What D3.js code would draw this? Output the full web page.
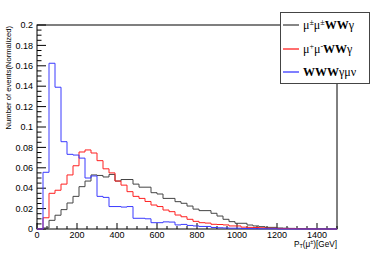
<!DOCTYPE html>
<html>
<head>
<meta charset="utf-8">
<script src="https://cdn.jsdelivr.net/npm/d3@7"></script>
<style>
  html, body { margin: 0; padding: 0; background: #fff; }
  svg { display: block; }
</style>
</head>
<body>
<div id="chart"></div>
<script>
// pT(mu) distributions, 30 GeV bins from 0 to 1500 GeV
const binWidth = 30;
const xDomain = [0, 1500];
const yDomain = [0, 0.2];
const xTicks = [0, 200, 400, 600, 800, 1000, 1200, 1400];
const yTicks = [0, 0.02, 0.04, 0.06, 0.08, 0.1, 0.12, 0.14, 0.16, 0.18, 0.2];

const sameSign = [
    0, 0.001, 0.0085, 0.0135, 0.019, 0.0255, 0.032, 0.0415, 0.047, 0.053,
    0.0525, 0.051, 0.0535, 0.047, 0.0485, 0.0485, 0.0440, 0.041, 0.041, 0.0356,
    0.0343, 0.030, 0.030, 0.0268, 0.0252, 0.0225, 0.0195, 0.018, 0.018, 0.0154,
    0.0127, 0.0095, 0.0072, 0.0056, 0.0056, 0.0039, 0.003, 0.0023, 0.0016, 0.0016,
    0.001, 0.0008, 0.0006, 0.0004, 0.0003, 0.0002, 0.0001, 0.0001, 0, 0
];
const oppSign = [
    0, 0.011, 0.035, 0.038, 0.044, 0.053, 0.062, 0.0755, 0.0775, 0.0745,
    0.067, 0.059, 0.055, 0.047, 0.043, 0.0366, 0.032, 0.030, 0.027, 0.0235,
    0.022, 0.0186, 0.017, 0.0137, 0.012, 0.0095, 0.0075, 0.0062, 0.0058, 0.0046,
    0.0044, 0.004, 0.003, 0.003, 0.0018, 0.0016, 0.0015, 0.0012, 0.0008, 0.0007,
    0.0005, 0.0004, 0.0003, 0.0002, 0.0001, 0.0001, 0, 0, 0, 0
];
const wwwSignal = [
    0, 0.0556, 0.1625, 0.139, 0.0856, 0.0732, 0.0725, 0.0695, 0.050, 0.052,
    0.032, 0.031, 0.022, 0.022, 0.0215, 0.022, 0.0105, 0.0105, 0.010, 0.0062,
    0.0062, 0.007, 0.0068, 0.004, 0.0045, 0.0035, 0.003, 0.0025, 0.0025, 0.0015,
    0.0012, 0.001, 0.0008, 0.0008, 0.0005, 0.0004, 0.0003, 0.0002, 0.0002, 0.0002,
    0, 0, 0, 0, 0, 0, 0, 0, 0, 0
];

const series = [
    { name: 'ss', values: sameSign, color: '#444444' },
    { name: 'os', values: oppSign, color: '#ff2020' },
    { name: 'www', values: wwwSignal, color: '#3a3aff' }
];

const width = 374, height = 255;
const margin = { top: 25, right: 37, bottom: 26, left: 37 };

const svg = d3.select('#chart')
    .append('svg')
    .attr('width', width)
    .attr('height', height);

const x = d3.scaleLinear().domain(xDomain).range([margin.left, width - margin.right]);
const y = d3.scaleLinear().domain(yDomain).range([height - margin.bottom, margin.top]);

const font = '"Liberation Sans", Arial, sans-serif';

// frame
svg.append('rect')
    .attr('x', x(0))
    .attr('y', y(0.2))
    .attr('width', x(1500) - x(0))
    .attr('height', y(0) - y(0.2))
    .attr('fill', 'none')
    .attr('stroke', '#000')
    .attr('stroke-width', 1);

// y axis ticks (inside)
const yMinor = d3.range(0, 0.2001, 0.005);
svg.append('g').selectAll('line')
    .data(yMinor)
    .join('line')
    .attr('x1', x(0))
    .attr('x2', (d, i) => x(0) + (i % 4 === 0 ? 9 : 4.5))
    .attr('y1', d => y(d))
    .attr('y2', d => y(d))
    .attr('stroke', '#000')
    .attr('stroke-width', 1);

svg.append('g').selectAll('text')
    .data(yTicks)
    .join('text')
    .attr('x', x(0) - 4)
    .attr('y', d => y(d))
    .attr('dy', '0.35em')
    .attr('text-anchor', 'end')
    .attr('font-family', font)
    .attr('font-size', '9px')
    .attr('fill', '#000')
    .text(d => d3.format('~g')(d));

// x axis ticks (inside)
const xMinor = d3.range(0, 1501, 50);
svg.append('g').selectAll('line')
    .data(xMinor)
    .join('line')
    .attr('x1', d => x(d))
    .attr('x2', d => x(d))
    .attr('y1', y(0))
    .attr('y2', d => y(0) - (d % 200 === 0 ? 6 : 3))
    .attr('stroke', '#000')
    .attr('stroke-width', 1);

svg.append('g').selectAll('text')
    .data(xTicks)
    .join('text')
    .attr('x', d => x(d))
    .attr('y', y(0) + 8.5)
    .attr('text-anchor', 'middle')
    .attr('font-family', font)
    .attr('font-size', '9px')
    .attr('fill', '#000')
    .text(d => d);

// histograms as step lines
const line = d3.line()
    .x(d => x(d[0]))
    .y(d => y(d[1]))
    .curve(d3.curveStepAfter);

series.forEach(s => {
    const pts = s.values.map((v, i) => [i * binWidth, v]);
    pts.push([s.values.length * binWidth, s.values[s.values.length - 1]]);
    svg.append('path')
        .datum(pts)
        .attr('d', line)
        .attr('fill', 'none')
        .attr('stroke', s.color)
        .attr('stroke-width', 1);
});

// y title
svg.append('text')
    .attr('transform', `translate(11,${y(0.2) + 1}) rotate(-90)`)
    .attr('text-anchor', 'end')
    .attr('font-family', font)
    .attr('font-size', '7.6px')
    .attr('fill', '#000')
    .text('Number of events(Normalized)');

// x title
const xt = svg.append('text')
    .attr('x', x(1500))
    .attr('y', y(0) + 17.5)
    .attr('text-anchor', 'end')
    .attr('font-family', font)
    .attr('font-size', '8.2px')
    .attr('fill', '#000');
xt.append('tspan').text('P');
xt.append('tspan').attr('font-size', '5.5px').attr('dy', 1.6).text('T');
xt.append('tspan').attr('dy', -1.6).text('(μ');
xt.append('tspan').attr('font-size', '5.5px').attr('dy', -2.2).text('±');
xt.append('tspan').attr('dy', 2.2).text(')[GeV]');

// legend
const lg = svg.append('g');
lg.append('rect')
    .attr('x', 280.5)
    .attr('y', 12.5)
    .attr('width', 89)
    .attr('height', 71)
    .attr('fill', '#fff')
    .attr('stroke', '#444')
    .attr('stroke-width', 1);

const serif = '"Liberation Serif", "Times New Roman", serif';
const legendRows = [
    { color: series[0].color, parts: [['μ', 0], ['±', 1], ['μ', 0], ['±', 1], ['WW', 2], ['γ', 0]] },
    { color: series[1].color, parts: [['μ', 0], ['+', 1], ['μ', 0], ['-', 1], ['WW', 2], ['γ', 0]] },
    { color: series[2].color, parts: [['WWW', 2], ['γμν', 0]] }
];
const rowY = [25, 48.5, 71.5];

legendRows.forEach((row, i) => {
    const yy = rowY[i];
    lg.append('line')
        .attr('x1', 283)
        .attr('x2', 299)
        .attr('y1', Math.round(yy))
        .attr('y2', Math.round(yy))
        .attr('stroke', row.color)
        .attr('stroke-width', 1.3);
    const t = lg.append('text')
        .attr('x', 303)
        .attr('y', yy + 4)
        .attr('font-family', serif)
        .attr('font-size', '12px')
        .attr('fill', '#000');
    let shifted = false;
    row.parts.forEach(([txt, kind]) => {
        const ts = t.append('tspan').text(txt);
        if (kind === 1) {
            ts.attr('font-size', '8px').attr('dy', -4);
            shifted = true;
        } else {
            if (shifted) { ts.attr('dy', 4); shifted = false; }
            if (kind === 2) ts.attr('font-weight', 'bold');
        }
    });
});
</script>
</body>
</html>
